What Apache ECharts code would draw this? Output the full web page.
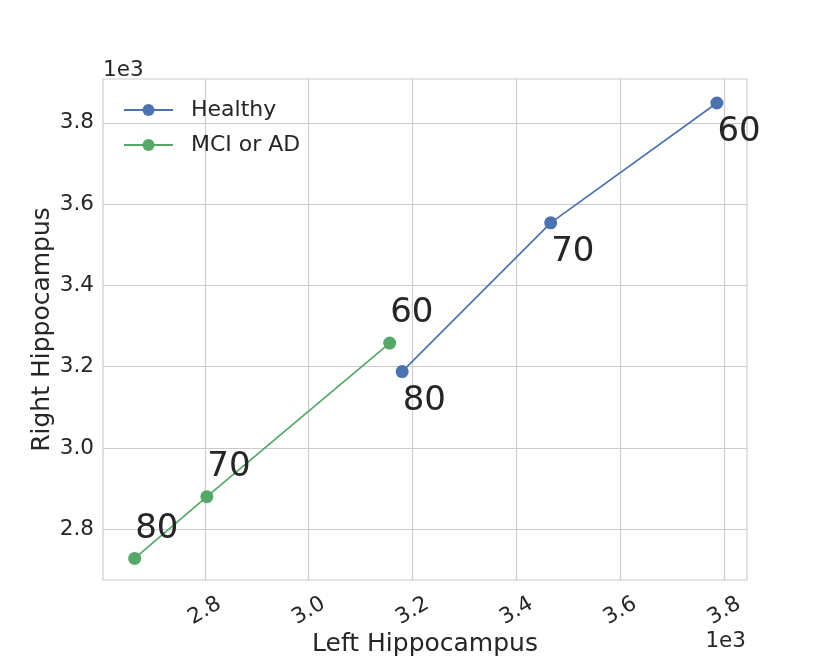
<!DOCTYPE html>
<html>
<head>
<meta charset="utf-8">
<script src="https://cdn.jsdelivr.net/npm/echarts@6/dist/echarts.min.js"></script>
<style>
  html, body { margin: 0; padding: 0; background: #fff; }
  #chart { width: 830px; height: 664px; }
</style>
</head>
<body>
<div id="chart"></div>
<script>
// values in thousands, as the axes show them (x 1e3)
const healthyLeft = [3.786, 3.466, 3.180];
const healthyRight = [3.849, 3.554, 3.188];
const mciLeft = [3.156, 2.804, 2.665];
const mciRight = [3.258, 2.880, 2.728];
const ageLabels = ['60', '70', '80'];
const xTicks = [2.8, 3.0, 3.2, 3.4, 3.6, 3.8];
const yTicks = [2.8, 3.0, 3.2, 3.4, 3.6, 3.8];

const font = 'DejaVu Sans';
const textColor = '#262626';

function pairs(xs, ys) {
    return xs.map((x, i) => ({ value: [x, ys[i]], age: ageLabels[i] }));
}

const chart = echarts.init(document.getElementById('chart'));

const axisCommon = {
    type: 'value',
    nameLocation: 'middle',
    nameMoveOverlap: false,
    nameTextStyle: { fontFamily: font, fontSize: 25, color: textColor },
    axisLine: { show: false },
    axisTick: { show: false },
    splitLine: { show: true, lineStyle: { color: '#cccccc', width: 1.2 } },
    axisLabel: {
        fontFamily: font, fontSize: 21.5, color: textColor,
        formatter: v => v.toFixed(1)
    }
};

chart.setOption({
    animation: false,
    backgroundColor: '#fff',
    grid: {
        left: 103, right: 83, top: 79, bottom: 84,
        outerBoundsMode: 'none',
        show: true, borderColor: '#cccccc', borderWidth: 1.2
    },
    xAxis: Object.assign({}, axisCommon, {
        name: 'Left Hippocampus',
        nameGap: 52,
        min: 2.604, max: 3.844,
        axisTick: { show: false, customValues: xTicks },
        axisLabel: Object.assign({}, axisCommon.axisLabel, {
            customValues: xTicks, rotate: 30, margin: 31,
            align: 'center', verticalAlign: 'middle'
        })
    }),
    yAxis: Object.assign({}, axisCommon, {
        name: 'Right Hippocampus',
        nameGap: 48,
        min: 2.675, max: 3.908,
        axisTick: { show: false, customValues: yTicks },
        axisLabel: Object.assign({}, axisCommon.axisLabel, {
            customValues: yTicks, margin: 9
        })
    }),
    legend: {
        orient: 'vertical',
        left: 118, top: 94,
        itemWidth: 49, itemHeight: 15, itemGap: 13,
        textStyle: { fontFamily: font, fontSize: 22, color: textColor, padding: [0, 0, 0, 13] },
        data: ['Healthy', 'MCI or AD']
    },
    graphic: [
        { type: 'text', left: 103, top: 59, style: { text: '1e3', font: '21.5px "DejaVu Sans"', fill: textColor } },
        { type: 'text', right: 84, top: 630, style: { text: '1e3', font: '21.5px "DejaVu Sans"', fill: textColor } }
    ],
    series: [
        {
            name: 'Healthy',
            type: 'line',
            data: pairs(healthyLeft, healthyRight),
            color: '#4c72b0',
            symbol: 'circle', symbolSize: 13,
            lineStyle: { width: 1.7 },
            label: {
                show: true, position: [7, 19], align: 'left', verticalAlign: 'top',
                fontFamily: font, fontSize: 34, color: textColor,
                formatter: p => p.data.age
            }
        },
        {
            name: 'MCI or AD',
            type: 'line',
            data: pairs(mciLeft, mciRight),
            color: '#55a868',
            symbol: 'circle', symbolSize: 13,
            lineStyle: { width: 1.7 },
            label: {
                show: true, position: [7, -6], align: 'left', verticalAlign: 'bottom',
                fontFamily: font, fontSize: 34, color: textColor,
                formatter: p => p.data.age
            }
        }
    ]
});
</script>
</body>
</html>
